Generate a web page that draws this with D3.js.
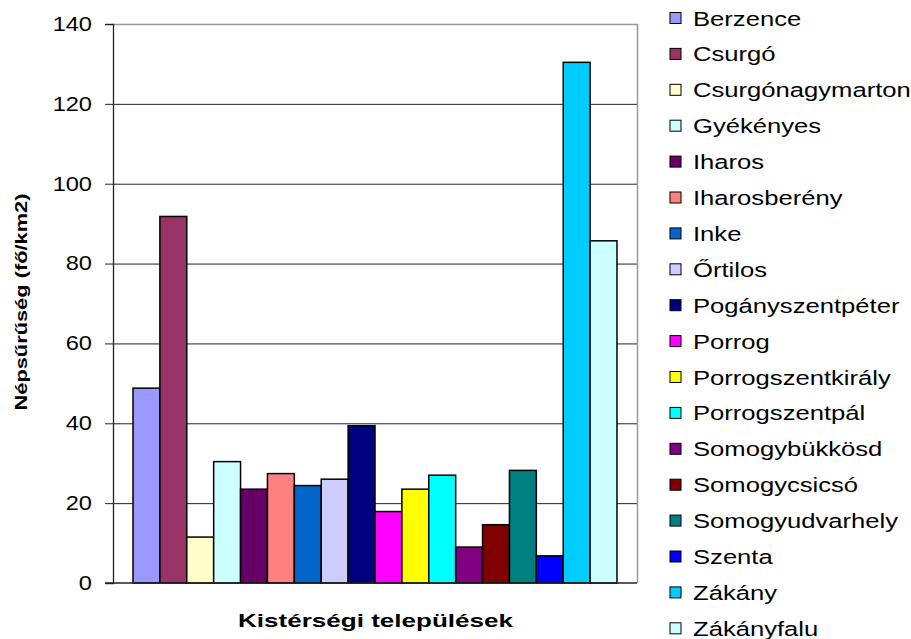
<!DOCTYPE html>
<html>
<head>
<meta charset="utf-8">
<script src="https://cdn.jsdelivr.net/npm/d3@7"></script>
<style>
  body { margin: 0; background: #fff; }
  svg { display: block; font-family: "Liberation Sans", Arial, sans-serif; }
</style>
</head>
<body>
<svg id="chart" width="911" height="639"></svg>
<script>
const names = ["Berzence","Csurgó","Csurgónagymarton","Gyékényes","Iharos","Iharosberény","Inke","Őrtilos","Pogányszentpéter","Porrog","Porrogszentkirály","Porrogszentpál","Somogybükkösd","Somogycsicsó","Somogyudvarhely","Szenta","Zákány","Zákányfalu"];
const values = [48.8, 91.8, 11.5, 30.4, 23.5, 27.4, 24.4, 26.0, 39.4, 17.9, 23.5, 27.0, 9.0, 14.6, 28.2, 6.8, 130.4, 85.7];
const colors = ["#9999FF","#993366","#FFFFCC","#CCFFFF","#660066","#FF8080","#0066CC","#CCCCFF","#000080","#FF00FF","#FFFF00","#00FFFF","#800080","#800000","#008080","#0000FF","#00CCFF","#CCFFFF"];
const yTicks = [0, 20, 40, 60, 80, 100, 120, 140];
const yTitle = "Népsűrűség (fő/km2)";
const xTitle = "Kistérségi települések";

(function () {
const svg = d3.select("#chart");
const pL = 113, pR = 637, pT = 24, pB = 583;

const x = d3.scaleBand().domain(names).range([pL, pR]).paddingInner(0).paddingOuter(0.744);
const y = d3.scaleLinear().domain([0, 140]).range([pB, pT]);

// gridlines
svg.append("g").selectAll("line").data(yTicks.filter(t => t > 0 && t < 140)).join("line")
  .attr("x1", pL).attr("x2", pR)
  .attr("y1", d => y(d) + 0.5).attr("y2", d => y(d) + 0.5)
  .attr("stroke", "#222").attr("stroke-width", 1);

// plot border top & right (gray)
svg.append("path")
  .attr("d", `M${pL},${y(140)+0.5}H${pR+0.5}V${pB}`)
  .attr("fill", "none").attr("stroke", "#999").attr("stroke-width", 1.5);

// bars
svg.append("g").selectAll("rect").data(names).join("rect")
  .attr("x", d => x(d))
  .attr("y", (d, i) => y(values[i]))
  .attr("width", x.bandwidth())
  .attr("height", (d, i) => y(0) - y(values[i]))
  .attr("fill", (d, i) => colors[i])
  .attr("stroke", "#000").attr("stroke-width", 1.5);

// y axis
const yAxis = d3.axisLeft(y).tickValues(yTicks).tickSize(8).tickPadding(12).tickFormat(d3.format("d"));
const gy = svg.append("g").attr("transform", `translate(${pL},0)`).call(yAxis);
gy.select(".domain").attr("stroke", "#222").attr("stroke-width", 1.3);
gy.selectAll(".tick line").attr("stroke", "#222");
gy.selectAll(".tick text").attr("font-size", 20).attr("fill", "#000")
  .attr("font-family", "Liberation Sans, Arial, sans-serif")
  .attr("x", 0).attr("transform", "translate(-21,0) scale(1.18,1)");

// x axis baseline
svg.append("line").attr("x1", pL - 8).attr("x2", pR).attr("y1", y(0)).attr("y2", y(0))
  .attr("stroke", "#222").attr("stroke-width", 1.3);

// axis titles
svg.append("text")
  .attr("transform", `translate(27,302) rotate(-90)`)
  .attr("x", -108.5)
  .attr("font-size", 17).attr("font-weight", "bold")
  .attr("textLength", 217).attr("lengthAdjust", "spacingAndGlyphs")
  .text(yTitle);

svg.append("text")
  .attr("x", 238).attr("y", 627)
  .attr("font-size", 19).attr("font-weight", "bold")
  .attr("textLength", 275).attr("lengthAdjust", "spacingAndGlyphs")
  .text(xTitle);

// legend
const lg = svg.append("g").selectAll("g").data(names).join("g")
  .attr("transform", (d, i) => `translate(670,${18 + i * 35.9})`);
lg.append("rect").attr("x", 0).attr("y", -5.5).attr("width", 11).attr("height", 11)
  .attr("fill", (d, i) => colors[i]).attr("stroke", "#000").attr("stroke-width", 1);
lg.append("text").attr("transform", "translate(23,7.5) scale(1.25,1)")
  .attr("font-size", 20.5).text(d => d);
})();
</script>
</body>
</html>
